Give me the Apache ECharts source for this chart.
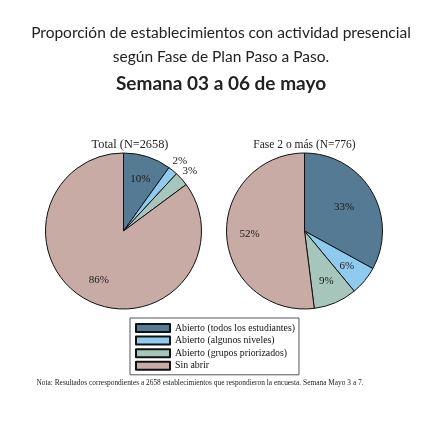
<!DOCTYPE html>
<html>
<head>
<meta charset="utf-8">
<script src="https://cdn.jsdelivr.net/npm/echarts@6/dist/echarts.min.js"></script>
<style>
  html, body { margin: 0; padding: 0; background: #fff; }
  #chart { width: 428px; height: 428px; }
</style>
</head>
<body>
<div id="chart"></div>
<script>
// categories and values
const categories = [
  'Abierto (todos los estudiantes)',
  'Abierto (algunos niveles)',
  'Abierto (grupos priorizados)',
  'Sin abrir'
];
const totalValues = [10, 2, 3, 86];
const faseValues = [33, 6, 9, 52];
// which labels of the "Total" pie sit outside the circle
const totalOutside = [false, true, true, false];
// the big slice of "Fase 2" keeps its label closer to the centre
const faseNearCenter = [true, false, false, false];

const colors = ['#557a93', '#8ecbef', '#a6c5bb', '#c8aba5'];
const serif = '"Liberation Serif", "DejaVu Serif", serif';

const pieR = 78;
const leftCenter = [123.5, 231];
const rightCenter = [304.5, 231];

function mainPie(center, values) {
  return {
    type: 'pie',
    center: center,
    radius: pieR,
    startAngle: 90,
    clockwise: true,
    silent: true,
    label: { show: false },
    labelLine: { show: false },
    itemStyle: { borderColor: '#111', borderWidth: 1 },
    emphasis: { disabled: true },
    data: values.map((v, i) => ({
      value: v,
      name: categories[i],
      itemStyle: { color: colors[i] }
    }))
  };
}

// transparent pie that only carries labels (inside label sits at (r0 + r) / 2)
function labelPie(center, values, radius, showFlags, outsideFlags) {
  return {
    type: 'pie',
    center: center,
    radius: radius,
    startAngle: 90,
    clockwise: true,
    silent: true,
    z: 5,
    avoidLabelOverlap: false,
    labelLayout: { hideOverlap: false },
    itemStyle: { color: 'rgba(0,0,0,0)', borderWidth: 0 },
    labelLine: { show: false, length: 12, length2: 0 },
    emphasis: { disabled: true },
    label: {
      position: 'inside',
      formatter: '{c}%',
      color: '#1a1a1a',
      fontFamily: serif,
      fontSize: 11,
      distanceToLabelLine: -8
    },
    data: values.map((v, i) => ({
      value: v,
      name: categories[i],
      label: {
        show: showFlags[i],
        position: outsideFlags && outsideFlags[i] ? 'outside' : 'inside'
      }
    }))
  };
}

const chart = echarts.init(document.getElementById('chart'));
chart.setOption({
  backgroundColor: '#fff',
  animation: false,
  title: [
    {
      text: 'Proporción de establecimientos con actividad presencial\nsegún Fase de Plan Paso a Paso.',
      left: 221, top: 21, textAlign: 'center', padding: 0,
      textStyle: { fontFamily: 'Lato', fontSize: 15.5, fontWeight: 'normal', color: '#222', lineHeight: 24 }
    },
    {
      text: 'Semana 03 a 06 de mayo',
      left: 221, top: 74, textAlign: 'center', padding: 0,
      textStyle: { fontFamily: 'Lato', fontSize: 19, fontWeight: 'bold', color: '#222' }
    },
    {
      text: 'Total (N=2658)',
      left: 130, top: 138.5, textAlign: 'center', padding: 0,
      textStyle: { fontFamily: serif, fontSize: 12.3, fontWeight: 'normal', color: '#222' }
    },
    {
      text: 'Fase 2 o más (N=776)',
      left: 304.5, top: 139, textAlign: 'center', padding: 0,
      textStyle: { fontFamily: serif, fontSize: 11.5, fontWeight: 'normal', color: '#222' }
    },
    {
      text: 'Nota: Resultados correspondientes a 2658 establecimientos que respondieron la encuesta. Semana Mayo 3 a 7.',
      left: 200, top: 380, textAlign: 'center', padding: 0,
      textStyle: { fontFamily: serif, fontSize: 7.4, fontWeight: 'normal', color: '#222' }
    }
  ],
  legend: {
    data: categories,
    orient: 'vertical',
    left: 130,
    top: 318,
    itemWidth: 34,
    itemHeight: 8,
    itemGap: 0.6,
    padding: [4, 4, 3, 5],
    borderColor: '#555',
    borderWidth: 1,
    selectedMode: false,
    icon: 'rect',
    textStyle: { fontFamily: serif, fontSize: 9.8, color: '#111', lineHeight: 12 }
  },
  series: [
    mainPie(leftCenter, totalValues),
    mainPie(rightCenter, faseValues),
    labelPie(leftCenter, totalValues, [26, pieR], totalValues.map(() => true), totalOutside),
    labelPie(rightCenter, faseValues, [16, 70], faseNearCenter),
    labelPie(rightCenter, faseValues, [26, pieR], faseNearCenter.map(n => !n))
  ]
});
</script>
</body>
</html>
